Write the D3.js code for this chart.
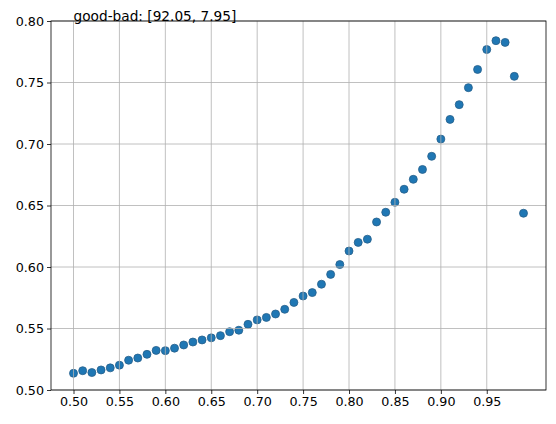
<!DOCTYPE html>
<html><head><meta charset="utf-8">
<script src="https://cdn.jsdelivr.net/npm/d3@7"></script>
<style>body{margin:0;background:#fff}svg{display:block}text{font-family:"DejaVu Sans",sans-serif}</style>
</head><body>
<svg id="c" width="556" height="424"></svg>
<script>
const xValues = [0.50,0.51,0.52,0.53,0.54,0.55,0.56,0.57,0.58,0.59,0.60,0.61,0.62,0.63,0.64,0.65,0.66,0.67,0.68,0.69,0.70,0.71,0.72,0.73,0.74,0.75,0.76,0.77,0.78,0.79,0.80,0.81,0.82,0.83,0.84,0.85,0.86,0.87,0.88,0.89,0.90,0.91,0.92,0.93,0.94,0.95,0.96,0.97,0.98,0.99];
const yValues = [0.5136,0.5157,0.5142,0.5163,0.5180,0.5202,0.5242,0.5260,0.5290,0.5322,0.5320,0.5340,0.5366,0.5390,0.5407,0.5424,0.5442,0.5474,0.5486,0.5534,0.5570,0.5590,0.5618,0.5656,0.5712,0.5764,0.5792,0.5860,0.5940,0.6020,0.6130,0.6200,0.6226,0.6366,0.6445,0.6526,0.6632,0.6713,0.6793,0.6900,0.7040,0.7200,0.7320,0.7458,0.7606,0.7768,0.7840,0.7826,0.7550,0.6437];
const xTicks = [0.50,0.55,0.60,0.65,0.70,0.75,0.80,0.85,0.90,0.95];
const yTicks = [0.50,0.55,0.60,0.65,0.70,0.75,0.80];
const titleText = "good-bad: [92.05, 7.95]";

const svg = d3.select("#c");
const L = 51, R = 546, T = 21, B = 390;
const xs = d3.scaleLinear().domain([0.4755, 1.0145]).range([L, R]);
const ys = d3.scaleLinear().domain([0.5, 0.8]).range([B, T]);

const data = xValues.map((x, i) => ({x, y: yValues[i]}));
svg.append("g").selectAll("circle").data(data).join("circle")
  .attr("cx", d => xs(d.x)).attr("cy", d => ys(d.y)).attr("r", 4)
  .attr("fill", "#1f77b4").attr("stroke", "#27608a").attr("stroke-width", 0.8);

// grid
const g = svg.append("g");
g.selectAll("line.vx").data(xTicks).join("line")
  .attr("x1", d => xs(d)).attr("x2", d => xs(d)).attr("y1", T).attr("y2", B)
  .attr("stroke", "#b0b0b0").attr("stroke-width", 0.8);
g.selectAll("line.hy").data(yTicks).join("line")
  .attr("x1", L).attr("x2", R).attr("y1", d => ys(d)).attr("y2", d => ys(d))
  .attr("stroke", "#b0b0b0").attr("stroke-width", 0.8);

const xAxis = svg.append("g").attr("transform", `translate(0,${B})`)
  .call(d3.axisBottom(xs).tickValues(xTicks).tickFormat(d3.format(".2f")).tickSize(4).tickPadding(3));
const yAxis = svg.append("g").attr("transform", `translate(${L},0)`)
  .call(d3.axisLeft(ys).tickValues(yTicks).tickFormat(d3.format(".2f")).tickSize(4).tickPadding(3));
[xAxis, yAxis].forEach(a => {
  a.select(".domain").remove();
  a.selectAll("text").attr("font-size", 12.7).attr("fill", "#000").attr("font-family", "DejaVu Sans");
  a.selectAll("line").attr("stroke", "#000").attr("stroke-width", 0.8);
});

svg.append("rect").attr("x", L).attr("y", T).attr("width", R - L).attr("height", B - T)
  .attr("fill", "none").attr("stroke", "#000").attr("stroke-width", 0.8);

svg.append("text").attr("x", xs(0.5)).attr("y", ys(0.8) - 0.5)
  .attr("font-size", 13.7).attr("fill", "#000").text(titleText);
</script>
</body></html>
